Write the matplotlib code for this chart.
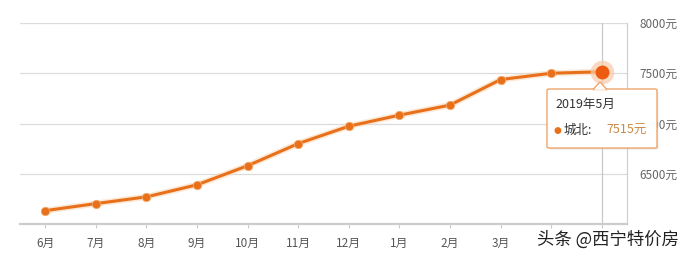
import numpy as np
import matplotlib
matplotlib.use("Agg")
import matplotlib.pyplot as plt
from matplotlib.patches import FancyBboxPatch, Polygon

plt.rcParams['font.family'] = ['Noto Sans CJK SC', 'DejaVu Sans']

# data
months = ['6月', '7月', '8月', '9月', '10月', '11月', '12月', '1月', '2月', '3月', '4月', '5月']
prices = [6133, 6203, 6270, 6390, 6580, 6800, 6973, 7083, 7183, 7437, 7500, 7515]
yticks = [6500, 7000, 7500, 8000]
tip_title = '2019年5月'
tip_name = '城北:'
tip_value = '7515元'
watermark = '头条 @西宁特价房'

W, H = 689, 261
ORANGE = '#e8701a'

def fx(px):
    return px / W

def fy(py):
    return 1 - py / H

fig = plt.figure(figsize=(W / 100, H / 100), dpi=100)
ax = fig.add_axes([fx(20), fy(224), fx(627) - fx(20), fy(23) - fy(224)])

x = np.arange(len(months))
ax.set_xlim(-0.5, len(months) - 0.5)
ax.set_ylim(6000, 8000)

# grid
for v in yticks:
    ax.axhline(v, color='#dcdcdc', lw=0.9, zorder=0)
for s in ['top', 'left']:
    ax.spines[s].set_visible(False)
ax.spines['right'].set_color('#d0d0d0')
ax.spines['right'].set_linewidth(0.9)
ax.spines['bottom'].set_color('#cccccc')
ax.spines['bottom'].set_linewidth(1.6)

# crosshair at last point
ax.axvline(x[-1], color='#c8c8c8', lw=0.9, zorder=1)

# line with soft glow
ax.plot(x, prices, color='#f9d3ad', lw=4.5, alpha=0.5, zorder=2, solid_capstyle='round')
ax.plot(x, prices, color=ORANGE, lw=2.2, zorder=3, marker='o', ms=6,
        mfc=ORANGE, mec='#f3a868', mew=0.6)
# highlighted last point
ax.plot(x[-1], prices[-1], 'o', ms=17, color='#f8c9a8', alpha=0.7, mew=0, zorder=4)
ax.plot(x[-1], prices[-1], 'o', ms=10, color='#ee5a10', mew=0, zorder=5)

ax.set_xticks(x)
ax.set_xticklabels(months)
ax.tick_params(axis='x', length=3, color='#cccccc', labelcolor='#555555', labelsize=8.5, pad=6)
# the last two month labels sit under the watermark in the source image
for lab in ax.get_xticklabels()[-2:]:
    lab.set_visible(False)
ax.yaxis.tick_right()
ax.set_yticks(yticks)
ax.set_yticklabels([f'{v}元' for v in yticks])
ax.tick_params(axis='y', length=0, labelcolor='#666666', labelsize=8.5, pad=9)

# tooltip
tx0, ty0, tx1, ty1 = 547, 89, 657, 148
shadow = FancyBboxPatch((fx(tx0) + 0.002, fy(ty1) - 0.006), fx(tx1) - fx(tx0), fy(ty0) - fy(ty1),
                        boxstyle='round,pad=0,rounding_size=0.004', transform=fig.transFigure,
                        fc='#bbbbbb', ec='none', alpha=0.35, zorder=9)
fig.patches.append(shadow)
box = FancyBboxPatch((fx(tx0), fy(ty1)), fx(tx1) - fx(tx0), fy(ty0) - fy(ty1),
                     boxstyle='round,pad=0,rounding_size=0.004', transform=fig.transFigure,
                     fc='white', ec='#f0a56a', lw=1.0, zorder=10)
fig.patches.append(box)
tri = Polygon([(fx(593), fy(89.5)), (fx(600), fy(82)), (fx(607), fy(89.5))], closed=True,
              transform=fig.transFigure, fc='white', ec='#f0a56a', lw=1.0, zorder=11)
fig.patches.append(tri)
fig.patches.append(Polygon([(fx(594), fy(89.8)), (fx(606), fy(89.8)), (fx(600), fy(84))], closed=True,
                           transform=fig.transFigure, fc='white', ec='none', zorder=12))

fig.text(fx(555), fy(104), tip_title, ha='left', va='center', fontsize=9, color='#333333', zorder=13)
fig.text(fx(557), fy(130), '●', ha='center', va='center', fontsize=6.5, color=ORANGE,
         family=['DejaVu Sans'], zorder=13)
fig.text(fx(564), fy(130), tip_name, ha='left', va='center', fontsize=9, color='#333333', zorder=13)
fig.text(fx(606), fy(130), tip_value, ha='left', va='center', fontsize=9, color='#c98a45', zorder=13)

# watermark
fig.text(fx(537), fy(240), watermark, ha='left', va='center', fontsize=12.5, color='#222222',
         bbox=dict(fc='white', ec='none', pad=1), zorder=20)

fig.savefig('out.png', dpi=100, facecolor='white')
